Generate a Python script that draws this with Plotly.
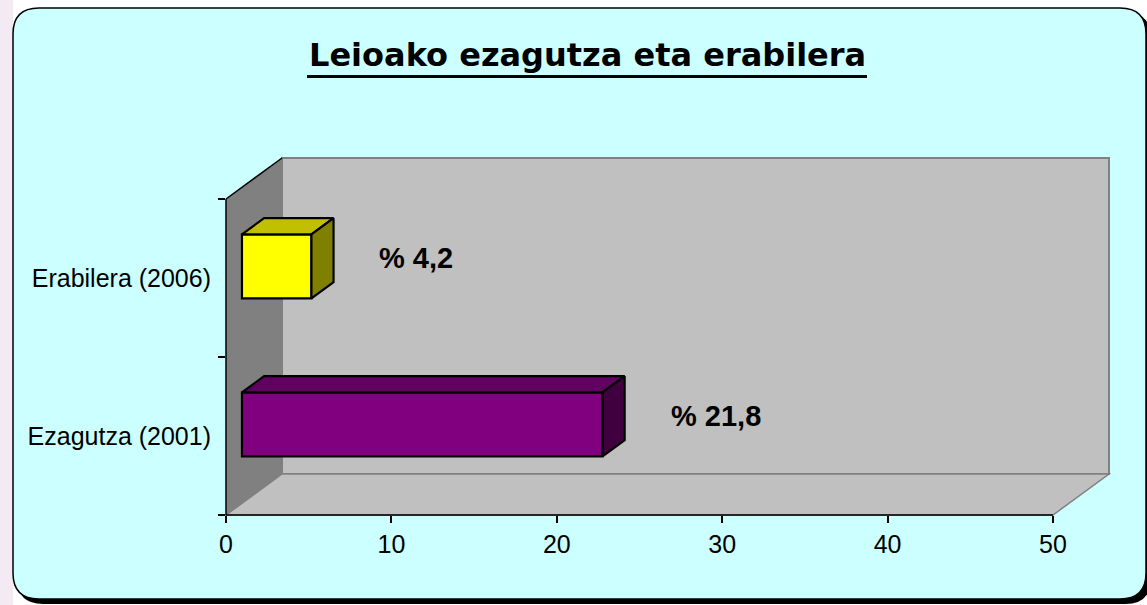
import plotly.graph_objects as go

# ---------------- data ----------------
categories = ["Ezagutza (2001)", "Erabilera (2006)"]
values = [21.8, 4.2]
front_colors = ["#800080", "#FFFF00"]
top_colors = ["#600060", "#C0C000"]
side_colors = ["#400040", "#808000"]
x_ticks = [0, 10, 20, 30, 40, 50]
title_text = "Leioako ezagutza eta erabilera"

# ---------------- geometry ----------------
W, H = 1147, 605
XMAX = 50
PX = 827 / 50          # pixels per x unit
PY = 158               # pixels per category
DX = 56 / PX           # 3-D depth along x (data units)
DY = 41 / PY           # 3-D depth along y (data units)
F0, F1 = 0.285, 0.68   # bar front/back depth fractions
HH = 0.2025            # half bar thickness (category units)
ML, MB = 226, 90
xr = [0, XMAX + DX]
yr = [0, len(categories) + DY]
PW = (xr[1] - xr[0]) * PX
PH = (yr[1] - yr[0]) * PY
MT = H - MB - PH
MR = W - ML - PW


def dpx(x):
    return (x - xr[0]) / (xr[1] - xr[0])


def dpy(y):
    return (y - yr[0]) / (yr[1] - yr[0])


def ppx(px):
    return (px - ML) / PW


def ppy(py):
    return (H - MB - py) / PH


def path(points):
    s = "M " + " L ".join(f"{x:.5f},{y:.5f}" for x, y in points) + " Z"
    return s


def rounded(x0, y0, x1, y1, r):
    # pixel coords -> paper path with rounded corners
    P = lambda a, b: f"{ppx(a):.5f},{ppy(b):.5f}"
    return (f"M {P(x0 + r, y0)} L {P(x1 - r, y0)} Q {P(x1, y0)} {P(x1, y0 + r)} "
            f"L {P(x1, y1 - r)} Q {P(x1, y1)} {P(x1 - r, y1)} "
            f"L {P(x0 + r, y1)} Q {P(x0, y1)} {P(x0, y1 - r)} "
            f"L {P(x0, y0 + r)} Q {P(x0, y0)} {P(x0 + r, y0)} Z")


shapes = []
# outer background strip
shapes.append(dict(type="rect", xref="paper", yref="paper", x0=ppx(0), x1=ppx(13), y0=ppy(605), y1=ppy(0),
                   fillcolor="#F4EAF3", line=dict(width=0), layer="below"))
# shadow + cyan rounded panel
shapes.append(dict(type="path", xref="paper", yref="paper", path=rounded(17, 12, 1151, 604, 26),
                   fillcolor="black", line=dict(width=0), layer="below"))
shapes.append(dict(type="path", xref="paper", yref="paper", path=rounded(13, 8, 1146, 599, 26),
                   fillcolor="#CCFFFF", line=dict(color="black", width=1.5), layer="below"))
# back wall
shapes.append(dict(type="rect", xref="paper", yref="paper", x0=dpx(DX), x1=dpx(XMAX + DX), y0=dpy(DY),
                   y1=dpy(len(categories) + DY), fillcolor="#C0C0C0", line=dict(color="#808080", width=2),
                   layer="below"))
# floor
shapes.append(dict(type="path", xref="paper", yref="paper",
                   path=path([(dpx(0), dpy(0)), (dpx(XMAX), dpy(0)), (dpx(XMAX + DX), dpy(DY)), (dpx(DX), dpy(DY))]),
                   fillcolor="#C0C0C0", line=dict(color="#808080", width=1.5), layer="below"))
# left wall
NC = len(categories)
shapes.append(dict(type="path", xref="paper", yref="paper",
                   path=path([(dpx(0), dpy(0)), (dpx(0), dpy(NC)), (dpx(DX), dpy(NC + DY)), (dpx(DX), dpy(DY))]),
                   fillcolor="#808080", line=dict(width=0), layer="below"))
# black edges / axis lines
for (xa, ya, xb, yb) in [(0, 0, XMAX, 0), (0, 0, 0, NC), (0, NC, DX, NC + DY)]:
    shapes.append(dict(type="line", xref="paper", yref="paper", x0=dpx(xa), y0=dpy(ya), x1=dpx(xb), y1=dpy(yb),
                       line=dict(color="black", width=1.5), layer="below"))
# title underline
shapes.append(dict(type="line", xref="paper", yref="paper", x0=ppx(307), x1=ppx(867), y0=ppy(76.5), y1=ppy(76.5),
                   line=dict(color="black", width=3)))

fig = go.Figure()

pos = [i + 0.5 for i in range(NC)]
bx0 = F0 * DX
by0 = F0 * DY
bx1 = F1 * DX
by1 = F1 * DY

# front faces
fig.add_trace(go.Bar(
    y=[p + by0 for p in pos], x=values, base=[bx0] * NC, width=2 * HH, orientation="h",
    marker=dict(color=front_colors, line=dict(color="black", width=2.2)), hoverinfo="skip"))

# top and side faces
for p, v, tc, sc in zip(pos, values, top_colors, side_colors):
    top_x = [bx0, bx0 + v, bx1 + v, bx1, bx0]
    top_y = [p + by0 + HH, p + by0 + HH, p + by1 + HH, p + by1 + HH, p + by0 + HH]
    fig.add_trace(go.Scatter(x=top_x, y=top_y, fill="toself", fillcolor=tc, mode="lines",
                             line=dict(color="black", width=2.2), hoverinfo="skip"))
    side_x = [bx0 + v, bx1 + v, bx1 + v, bx0 + v, bx0 + v]
    side_y = [p + by0 - HH, p + by1 - HH, p + by1 + HH, p + by0 + HH, p + by0 - HH]
    fig.add_trace(go.Scatter(x=side_x, y=side_y, fill="toself", fillcolor=sc, mode="lines",
                             line=dict(color="black", width=2.2), hoverinfo="skip"))

annotations = []
for p, v in zip(pos, values):
    annotations.append(dict(x=v + bx0 + 66 / PX, y=p + 0.125, xref="x", yref="y",
                            text="<b>% " + f"{v:.1f}".replace(".", ",") + "</b>", showarrow=False,
                            xanchor="left", yanchor="middle",
                            font=dict(family="Liberation Sans, Arial", size=29, color="black")))
annotations.append(dict(x=ppx(587), y=ppy(55), xref="paper", yref="paper", text="<b>" + title_text + "</b>",
                        showarrow=False, xanchor="center", yanchor="middle",
                        font=dict(family="DejaVu Sans", size=32, color="black")))

tickfont = dict(family="Liberation Sans, Arial", size=25, color="black")
fig.update_layout(
    width=W, height=H, autosize=False,
    margin=dict(l=ML, r=MR, t=MT, b=MB, pad=0),
    paper_bgcolor="white", plot_bgcolor="rgba(0,0,0,0)",
    showlegend=False, shapes=shapes, annotations=annotations,
    xaxis=dict(range=xr, tickvals=x_ticks, ticks="outside", ticklen=7, tickwidth=1.5, tickcolor="black",
               showgrid=False, zeroline=False, showline=False, tickfont=tickfont, fixedrange=True),
    yaxis=dict(range=yr, tickvals=pos, ticktext=categories, ticks="", showgrid=False, zeroline=False,
               showline=False, tickfont=tickfont, ticklabelstandoff=14, fixedrange=True,
               minor=dict(tickvals=list(range(NC + 1)), ticks="outside", ticklen=7, tickwidth=1.5,
                          tickcolor="black", showgrid=False)),
)

fig.write_html("out.html", config={"displayModeBar": False},
               post_script="document.body.style.margin='0';")
